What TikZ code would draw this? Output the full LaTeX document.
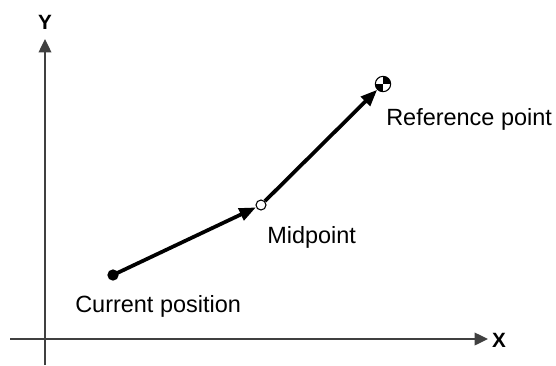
\documentclass[tikz,border=0pt]{standalone}
\usepackage{fontspec}
\setmainfont{Liberation Sans}
\usetikzlibrary{arrows.meta}
\tikzset{
  axis/.style={draw=black!75, line width=1pt, -{Triangle[length=10pt,width=9.5pt]}},
  move/.style={draw=black, line width=2.8pt, -{Triangle[length=12.5pt,width=9.5pt]}},
  label/.style={font=\fontsize{17.6}{20}\selectfont, inner sep=0pt, anchor=base west},
  axlabel/.style={font=\fontsize{15.5}{18}\selectfont\bfseries, inner sep=0pt},
  startpt/.style={circle, fill=black, minimum size=8.5pt, inner sep=0pt},
  midpt/.style={circle, draw=black, fill=white, line width=0.8pt, minimum size=7.5pt, inner sep=0pt},
  refpt/.style={circle, draw=black, fill=white, line width=0.8pt, minimum size=11.5pt, inner sep=0pt,
    path picture={
      \fill[black] (path picture bounding box.center) rectangle (path picture bounding box.north east);
      \fill[black] (path picture bounding box.center) rectangle (path picture bounding box.south west);
    }}
}
\begin{document}
\begin{tikzpicture}[x=0.75pt, y=-0.75pt]
  \useasboundingbox (0,0) rectangle (556,365);
  % axes
  \coordinate (xfrom) at (10,339);
  \coordinate (xto) at (488,339);
  \coordinate (yfrom) at (45,365);
  \coordinate (yto) at (45,39);
  \draw[axis] (xfrom) -- (xto);
  \draw[axis] (yfrom) -- (yto);
  \node[axlabel] (xlab) at (499,340) {X};
  \node[axlabel] (ylab) at (45,22) {Y};
  % points
  \node[startpt] (cur) at (113,275) {};
  \node[midpt] (mid) at (261,205) {};
  \node[refpt] (ref) at (383,84) {};
  \draw[move] (cur.center) -- (mid);
  \draw[move] (mid) -- (ref);
  % labels
  \node[label] (curlab) at (75,312) {Current position};
  \node[label] (midlab) at (267,243) {Midpoint};
  \node[label] (reflab) at (386,125.5) {Reference point};
\end{tikzpicture}
\end{document}
